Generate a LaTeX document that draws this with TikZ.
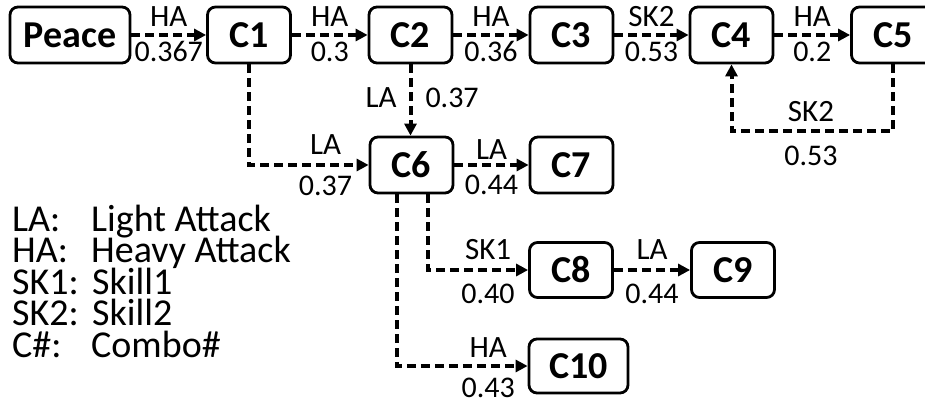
\documentclass[tikz,border=0pt]{standalone}
\usepackage{fontspec}
\setmainfont{Carlito}
\usetikzlibrary{arrows.meta}
\begin{document}
\begin{tikzpicture}[x=1pt,y=-1pt,
  box/.style={draw, line width=2.8pt, rounded corners=8pt, minimum width=83pt,
    minimum height=56pt, inner sep=0pt, font=\fontsize{38}{38}\selectfont\bfseries},
  flow/.style={line width=4pt, dash pattern=on 9pt off 5pt,
    -{Triangle[length=12pt,width=12pt]}},
  lab/.style={font=\fontsize{31}{31}\selectfont, anchor=base, inner sep=0pt},
  num/.style={font=\fontsize{30}{30}\selectfont, anchor=base, inner sep=0pt},
  leg/.style={font=\fontsize{38}{38}\selectfont, anchor=base west, inner sep=0pt,
    text height=24pt, text depth=6pt}]

\useasboundingbox (0,0) rectangle (925,398);
\clip (0,0) rectangle (925,398);

% combo states
\node[box, minimum width=120pt] (peace) at (70,35) {Peace};
\node[box] (c1) at (249,35) {C1};
\node[box] (c2) at (410.5,35) {C2};
\node[box] (c3) at (571.5,35) {C3};
\node[box] (c4) at (731.5,35) {C4};
\node[box] (c5) at (893,35) {C5};
\node[box] (c6) at (411.5,165) {C6};
\node[box] (c7) at (571.5,165) {C7};
\node[box, minimum height=55pt] (c8) at (571,270) {C8};
\node[box, minimum height=55pt] (c9) at (733,270) {C9};
\node[box, minimum width=99pt, minimum height=54pt] (c10) at (578.5,366) {C10};

% transitions: action above, probability below
\draw[flow] (peace.east) -- (c1.west)
  node[lab, midway, yshift=8pt] {HA} node[num, midway, yshift=-27pt] {0.367};
\draw[flow] (c1.east) -- (c2.west)
  node[lab, midway, yshift=8pt] {HA} node[num, midway, yshift=-27pt] {0.3};
\draw[flow] (c2.east) -- (c3.west)
  node[lab, midway, yshift=8pt] {HA} node[num, midway, yshift=-27pt] {0.36};
\draw[flow] (c3.east) -- (c4.west)
  node[lab, midway, yshift=8pt] {SK2} node[num, midway, yshift=-27pt] {0.53};
\draw[flow] (c4.east) -- (c5.west)
  node[lab, midway, yshift=8pt] {HA} node[num, midway, yshift=-27pt] {0.2};

\draw[flow] (c2.south) -- (c2.south |- c6.north)
  node[lab, midway, anchor=base east, xshift=-12pt, yshift=-8pt] {LA}
  node[num, midway, anchor=base west, xshift=13pt, yshift=-8pt] {0.37};
\draw[flow] (c1.south) |- (c6.west)
  node[lab, pos=0.82, yshift=10pt] {LA} node[num, pos=0.82, yshift=-30pt] {0.37};
\draw[flow] (c6.east) -- (c7.west)
  node[lab, midway, yshift=5pt] {LA} node[num, midway, yshift=-29pt] {0.44};
\draw[flow] ([xshift=16.5pt]c6.south) |- (c8.west)
  node[lab, pos=0.8, yshift=11pt] {SK1} node[num, pos=0.8, yshift=-33pt] {0.40};
\draw[flow] (c8.east) -- (c9.west)
  node[lab, midway, yshift=11pt] {LA} node[num, midway, yshift=-33pt] {0.44};
\draw[flow] ([xshift=-15pt]c6.south) |- (c10.west)
  node[lab, pos=0.85, yshift=9pt] {HA} node[num, pos=0.85, yshift=-31pt] {0.43};

\coordinate (loop) at (811,131);
\draw[flow] (c5.south) |- (loop)
  node[lab, yshift=9pt] {SK2} node[num, yshift=-34pt] {0.53}
  -| (c4.south);

% legend
\node[leg] (k1) at (12,231) {LA:};
\node[leg] (v1) at (91,231) {Light Attack};
\node[leg] (k2) at (12,262.5) {HA:};
\node[leg] (v2) at (91,262.5) {Heavy Attack};
\node[leg] (k3) at (12,294) {SK1:};
\node[leg] (v3) at (92,294) {Skill1};
\node[leg] (k4) at (12,325.5) {SK2:};
\node[leg] (v4) at (92,325.5) {Skill2};
\node[leg] (k5) at (12,357) {C\#:};
\node[leg] (v5) at (91,357) {Combo\#};
\end{tikzpicture}
\end{document}
